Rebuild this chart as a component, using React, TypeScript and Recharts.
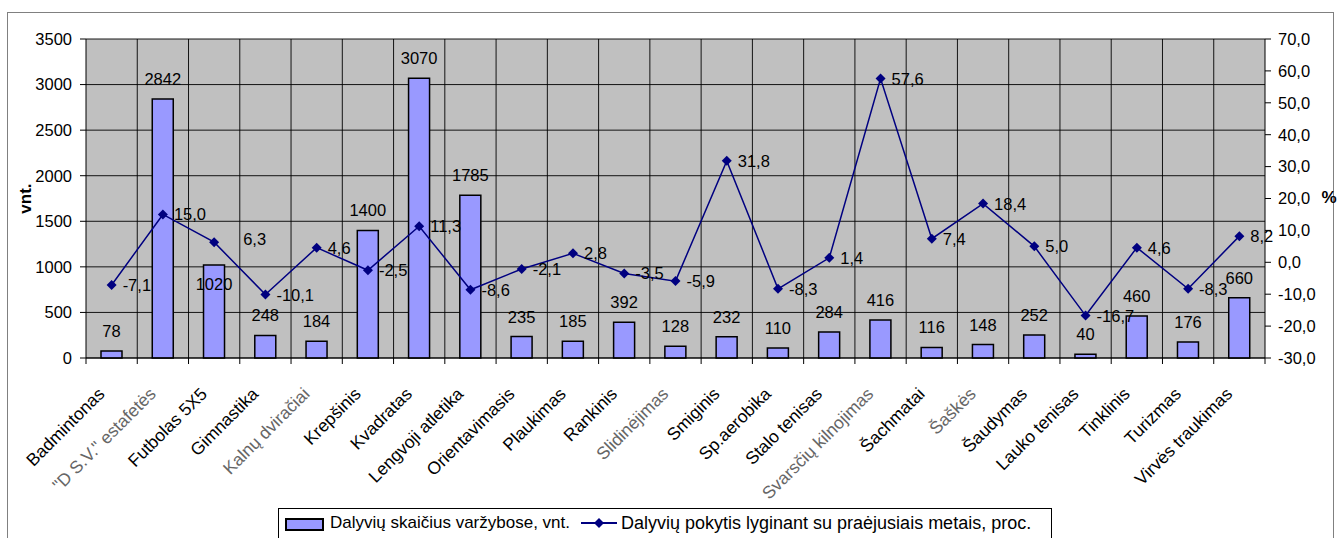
import React from 'react'
import {
  Bar,
  CartesianGrid,
  ComposedChart,
  LabelList,
  Line,
  XAxis,
  YAxis
} from 'recharts'

// sporto šakos
const sportai = [
  'Badmintonas',
  '"D S.V." estafetės',
  'Futbolas 5X5',
  'Gimnastika',
  'Kalnų dviračiai',
  'Krepšinis',
  'Kvadratas',
  'Lengvoji atletika',
  'Orientavimasis',
  'Plaukimas',
  'Rankinis',
  'Slidinėjimas',
  'Smiginis',
  'Sp.aerobika',
  'Stalo tenisas',
  'Svarsčių kilnojimas',
  'Šachmatai',
  'Šaškės',
  'Šaudymas',
  'Lauko tenisas',
  'Tinklinis',
  'Turizmas',
  'Virvės traukimas'
]

const dalyviai = [
  78, 2842, 1020, 248, 184, 1400, 3070, 1785, 235, 185, 392, 128, 232, 110, 284,
  416, 116, 148, 252, 40, 460, 176, 660
]

const pokytis = [
  -7.1, 15.0, 6.3, -10.1, 4.6, -2.5, 11.3, -8.6, -2.1, 2.8, -3.5, -5.9, 31.8,
  -8.3, 1.4, 57.6, 7.4, 18.4, 5.0, -16.7, 4.6, -8.3, 8.2
]

const leftTicks = [0, 500, 1000, 1500, 2000, 2500, 3000, 3500]
const rightTicks = [-30, -20, -10, 0, 10, 20, 30, 40, 50, 60, 70]

const data = sportai.map((name, i) => ({
  name,
  dalyviai: dalyviai[i],
  pokytis: pokytis[i]
}))

const W = 1337
const H = 538
const LEFT_W = 86
const RIGHT_W = 72
const TOP = 39
const XAXIS_H = 180
const TICK = 6
const plotW = W - LEFT_W - RIGHT_W
const band = plotW / sportai.length
const FONT = '"Liberation Sans", Arial, sans-serif'
const FS = 16.5

// pilkesni (neryškūs) užrašai originale
const faded = ['"D S.V." estafetės', 'Kalnų dviračiai', 'Slidinėjimas', 'Svarsčių kilnojimas', 'Šaškės']

const fmt = (v: number) => v.toFixed(1).replace('.', ',')

const XTick = ({ x, y, payload, index }: any) => {
  const axisY = y - TICK
  const left = x - band / 2
  const last = index === sportai.length - 1
  const tx = x - 6
  const ty = axisY + 37
  return (
    <g>
      <line x1={left} y1={axisY} x2={left} y2={axisY + TICK} stroke='#000' />
      {last && (
        <line x1={left + band} y1={axisY} x2={left + band} y2={axisY + TICK} stroke='#000' />
      )}
      <text
        x={tx}
        y={ty}
        transform={`rotate(-45, ${tx}, ${ty})`}
        textAnchor='end'
        fontSize={17.5}
        fontFamily={FONT}
        fill={faded.includes(payload.value) ? '#666' : '#000'}
      >
        {payload.value}
      </text>
    </g>
  )
}

// Futbolas 5X5 žymės originale perkeltos
const BarLabel = ({ x, y, width, value, index }: any) => (
  <text
    x={x + width / 2}
    y={index === 2 ? y + 25 : y - 14}
    textAnchor='middle'
    fontSize={FS}
    fontFamily={FONT}
    fill='#000'
  >
    {value}
  </text>
)

const LineLabel = ({ x, y, value, index }: any) => (
  <text
    x={index === 2 ? x + 29 : x + 11}
    y={index === 2 ? y + 3 : y + 6}
    fontSize={FS}
    fontFamily={FONT}
    fill='#000'
  >
    {fmt(value)}
  </text>
)

const Diamond = ({ cx, cy }: any) => (
  <path d={`M${cx},${cy - 5}L${cx + 5},${cy}L${cx},${cy + 5}L${cx - 5},${cy}Z`} fill='#000080' />
)

const LeftLabel = ({ viewBox }: any) => {
  const cx = 25
  const cy = viewBox.y + viewBox.height / 2
  return (
    <text
      x={cx}
      y={cy}
      transform={`rotate(-90, ${cx}, ${cy})`}
      textAnchor='middle'
      dominantBaseline='central'
      fontSize={17}
      fontWeight='bold'
      fontFamily={FONT}
    >
      vnt.
    </text>
  )
}

const RightLabel = ({ viewBox }: any) => (
  <text
    x={viewBox.x + viewBox.width - 8}
    y={viewBox.y + viewBox.height / 2 - 1}
    textAnchor='middle'
    dominantBaseline='central'
    fontSize={17}
    fontWeight='bold'
    fontFamily={FONT}
  >
    %
  </text>
)

export default function App() {
  return (
    <div style={{ position: 'absolute', left: 0, top: 0, width: W, height: H, background: '#fff', overflow: 'hidden' }}>
      <div
        style={{
          position: 'absolute',
          left: 7,
          top: 12,
          width: 1325,
          height: 540,
          border: '1px solid #808080'
        }}
      />
      <ComposedChart
        width={W}
        height={H}
        data={data}
        margin={{ top: TOP, right: 0, bottom: 0, left: 0 }}
        style={{ position: 'absolute', left: 0, top: 0 }}
      >
        <CartesianGrid
          yAxisId='left'
          fill='#C0C0C0'
          stroke='#000'
          strokeOpacity={0.9}
          verticalCoordinatesGenerator={({ offset }: any) =>
            sportai.slice(1).map((_, i) => offset.left + (i + 1) * (offset.width / sportai.length))
          }
        />
        <XAxis
          dataKey='name'
          interval={0}
          height={XAXIS_H}
          tickLine={false}
          tickSize={TICK}
          tickMargin={0}
          stroke='#000'
          tick={<XTick />}
        />
        <YAxis
          yAxisId='left'
          width={LEFT_W}
          domain={[0, 3500]}
          ticks={leftTicks}
          tickSize={TICK}
          tickMargin={8}
          stroke='#000'
          tick={{ fill: '#000', fontSize: FS, fontFamily: FONT }}
          label={<LeftLabel />}
        />
        <YAxis
          yAxisId='right'
          orientation='right'
          width={RIGHT_W}
          domain={[-30, 70]}
          ticks={rightTicks}
          tickFormatter={fmt}
          tickSize={TICK}
          tickMargin={7}
          stroke='#000'
          tick={{ fill: '#000', fontSize: FS, fontFamily: FONT, textAnchor: 'start' }}
          label={<RightLabel />}
        />
        <Bar
          yAxisId='left'
          dataKey='dalyviai'
          fill='#9999FF'
          stroke='#000'
          strokeWidth={1.5}
          barSize={21}
          isAnimationActive={false}
        >
          <LabelList dataKey='dalyviai' content={<BarLabel />} />
        </Bar>
        <Line
          yAxisId='right'
          dataKey='pokytis'
          stroke='#000080'
          strokeWidth={1.5}
          dot={<Diamond />}
          activeDot={false}
          isAnimationActive={false}
        >
          <LabelList dataKey='pokytis' content={<LineLabel />} />
        </Line>
      </ComposedChart>
      <div
        style={{
          position: 'absolute',
          left: 278,
          top: 508,
          width: 774,
          height: 40,
          border: '1px solid #000',
          background: '#fff',
          fontFamily: FONT,
          fontSize: 17,
          color: '#000',
          display: 'flex',
          alignItems: 'flex-start',
          paddingTop: 4,
          boxSizing: 'border-box',
          whiteSpace: 'nowrap'
        }}
      >
        <span
          style={{
            display: 'inline-block',
            width: 35,
            height: 9,
            marginLeft: 6,
            marginTop: 5,
            background: '#9999FF',
            border: '2px solid #000'
          }}
        />
        <span style={{ marginLeft: 6 }}>Dalyvių skaičius varžybose, vnt.</span>
        <svg width={38} height={20} style={{ marginLeft: 10 }}>
          <line x1={1} y1={10} x2={37} y2={10} stroke='#000080' strokeWidth={2} />
          <path d='M19,5L24,10L19,15L14,10Z' fill='#000080' />
        </svg>
        <span style={{ marginLeft: 3, fontSize: 18 }}>Dalyvių pokytis lyginant su praėjusiais metais, proc.</span>
      </div>
    </div>
  )
}
